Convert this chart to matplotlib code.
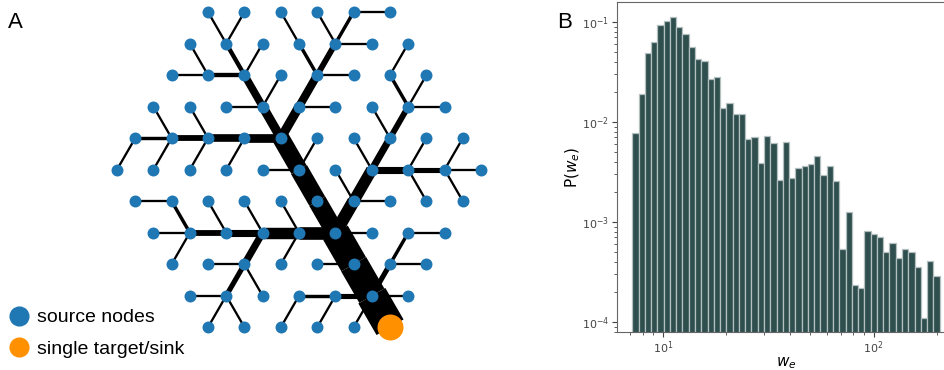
import numpy as np
import matplotlib
matplotlib.use('agg')
import matplotlib.pyplot as plt
from matplotlib.collections import LineCollection
from matplotlib.lines import Line2D

# ---- panel A: drainage tree on a hexagonal patch of a triangular lattice ----
# a node is (row, X) with X counted in half lattice spacings
row_sizes = [6, 7, 8, 9, 10, 11, 10, 9, 8, 7, 6]
sink = (10, 15)

# every node -> the node it drains into
parent = {
    (0, 5): (1, 6), (0, 7): (1, 6), (0, 9): (1, 10), (0, 11): (1, 12),
    (0, 13): (1, 12), (0, 15): (0, 13),
    (1, 4): (2, 5), (1, 6): (2, 7), (1, 8): (2, 7), (1, 10): (2, 11),
    (1, 12): (2, 11), (1, 14): (1, 12), (1, 16): (2, 15),
    (2, 3): (2, 5), (2, 5): (2, 7), (2, 7): (3, 8), (2, 9): (3, 8),
    (2, 11): (3, 10), (2, 13): (2, 11), (2, 15): (3, 16), (2, 17): (3, 16),
    (3, 2): (4, 3), (3, 4): (4, 5), (3, 6): (3, 8), (3, 8): (4, 9),
    (3, 10): (4, 9), (3, 12): (3, 10), (3, 14): (4, 15), (3, 16): (4, 15),
    (3, 18): (3, 16),
    (4, 1): (4, 3), (4, 3): (4, 5), (4, 5): (4, 7), (4, 7): (4, 9),
    (4, 9): (5, 10), (4, 11): (5, 10), (4, 13): (5, 14), (4, 15): (5, 14),
    (4, 17): (5, 16), (4, 19): (5, 18),
    (5, 0): (4, 1), (5, 2): (4, 3), (5, 4): (4, 5), (5, 6): (4, 7),
    (5, 8): (5, 10), (5, 10): (6, 11), (5, 12): (6, 13), (5, 14): (6, 13),
    (5, 16): (5, 14), (5, 18): (5, 16), (5, 20): (5, 18),
    (6, 1): (6, 3), (6, 3): (7, 4), (6, 5): (7, 6), (6, 7): (7, 8),
    (6, 9): (7, 10), (6, 11): (7, 12), (6, 13): (7, 12), (6, 15): (6, 13),
    (6, 17): (5, 16), (6, 19): (5, 18),
    (7, 2): (7, 4), (7, 4): (7, 6), (7, 6): (7, 8), (7, 8): (7, 10),
    (7, 10): (7, 12), (7, 12): (8, 13), (7, 14): (7, 12), (7, 16): (8, 15),
    (7, 18): (7, 16),
    (8, 3): (7, 4), (8, 5): (8, 7), (8, 7): (7, 8), (8, 9): (7, 10),
    (8, 11): (8, 13), (8, 13): (9, 14), (8, 15): (9, 14), (8, 17): (8, 15),
    (9, 4): (9, 6), (9, 6): (8, 7), (9, 8): (8, 7), (9, 10): (9, 12),
    (9, 12): (9, 14), (9, 14): (10, 15), (9, 16): (9, 14),
    (10, 5): (9, 6), (10, 7): (9, 6), (10, 9): (9, 10), (10, 11): (9, 12),
    (10, 13): (9, 14),
}

# ---- panel B: histogram of edge weights ----
we_lo, we_hi = 7.14, 206.0
p_we = [0.0078, 0.0192, 0.049, 0.0626, 0.093, 0.103, 0.111, 0.0898, 0.0764, 0.0562,
        0.0424, 0.0407, 0.0269, 0.0284, 0.0137, 0.0155, 0.0119, 0.0119, 0.0067, 0.0070,
        0.0039, 0.0072, 0.0062, 0.00263, 0.00636, 0.00275, 0.00344, 0.00363, 0.00377, 0.00457,
        0.00295, 0.00366, 0.00257, 0.000533, 0.00125, 0.000233, 0.000219, 0.000807, 0.000759, 0.000703,
        0.000497, 0.000617, 0.000433, 0.000537, 0.000505, 0.000352, 0.000110, 0.000410, 0.000286]


def pos(node):
    r, X = node
    return X / 2.0, -r * np.sqrt(3) / 2.0


# flow through each node = number of nodes upstream (itself included)
flow = {}
def get_flow(n):
    if n not in flow:
        flow[n] = 1 + sum(get_flow(c) for c, p in parent.items() if p == n)
    return flow[n]

nodes = []
for r, n in enumerate(row_sizes):
    start = abs(5 - r)
    nodes += [(r, start + 2 * i) for i in range(n)]
sources = [n for n in nodes if n != sink]

segs = [[pos(c), pos(p)] for c, p in parent.items()]
widths = [1.65 * get_flow(c) ** 0.58 for c in parent]

fig = plt.figure(figsize=(9.45, 3.7), dpi=100)

axA = fig.add_axes([0, 0, 520 / 945, 1])
axA.add_collection(LineCollection(segs, linewidths=widths, colors='black',
                                  capstyle='butt', zorder=1))
sx, sy = zip(*[pos(n) for n in sources])
axA.scatter(sx, sy, s=74, color='#1f77b4', linewidths=0, zorder=2)
kx, ky = pos(sink)
axA.scatter([kx], [ky], s=350, color='#ff9100', linewidths=0, zorder=3)
axA.set_xlim(-3.214, 11.07)
axA.set_ylim(-9.835, 0.33)
axA.axis('off')

handles = [Line2D([], [], marker='o', ls='', ms=13.5, color='#1f77b4'),
           Line2D([], [], marker='o', ls='', ms=13.5, color='#ff9100')]
axA.legend(handles, ['source nodes', 'single target/sink'], loc='lower left',
           bbox_to_anchor=(9 / 945, 12 / 370), bbox_transform=fig.transFigure,
           frameon=False, borderpad=0, borderaxespad=0, handlelength=1.0,
           handletextpad=0.43, labelspacing=0.72,
           prop={'family': 'Liberation Sans', 'size': 14})

fig.text(8 / 945, 1 - 28 / 370, 'A', family='Liberation Sans', fontsize=16)
fig.text(557 / 945, 1 - 28 / 370, 'B', family='Liberation Sans', fontsize=16)

# panel B
axB = fig.add_axes([617 / 945, 38 / 370, 338 / 945, 330 / 370])
edges = np.logspace(np.log10(we_lo), np.log10(we_hi), len(p_we) + 1)
axB.set_xscale('log')
axB.set_yscale('log')
axB.bar(edges[:-1], p_we, width=np.diff(edges), align='edge',
        color='#2f4f4f', edgecolor='#b4c0c0', linewidth=0.9)
axB.set_xlim(10 ** 0.781, 10 ** 2.387)
axB.set_ylim(10 ** -4.1, 10 ** -0.8)
for s in axB.spines.values():
    s.set_color('#666666')
axB.tick_params(labelsize=8, colors='#444444', which='both', pad=2)
axB.tick_params(which='major', length=3.5)
axB.tick_params(which='minor', length=2)
axB.set_xlabel('$w_e$', fontsize=11, labelpad=-1)
axB.set_ylabel('P($w_e$)', fontsize=11, labelpad=0)

fig.savefig('out.png', dpi=100)
